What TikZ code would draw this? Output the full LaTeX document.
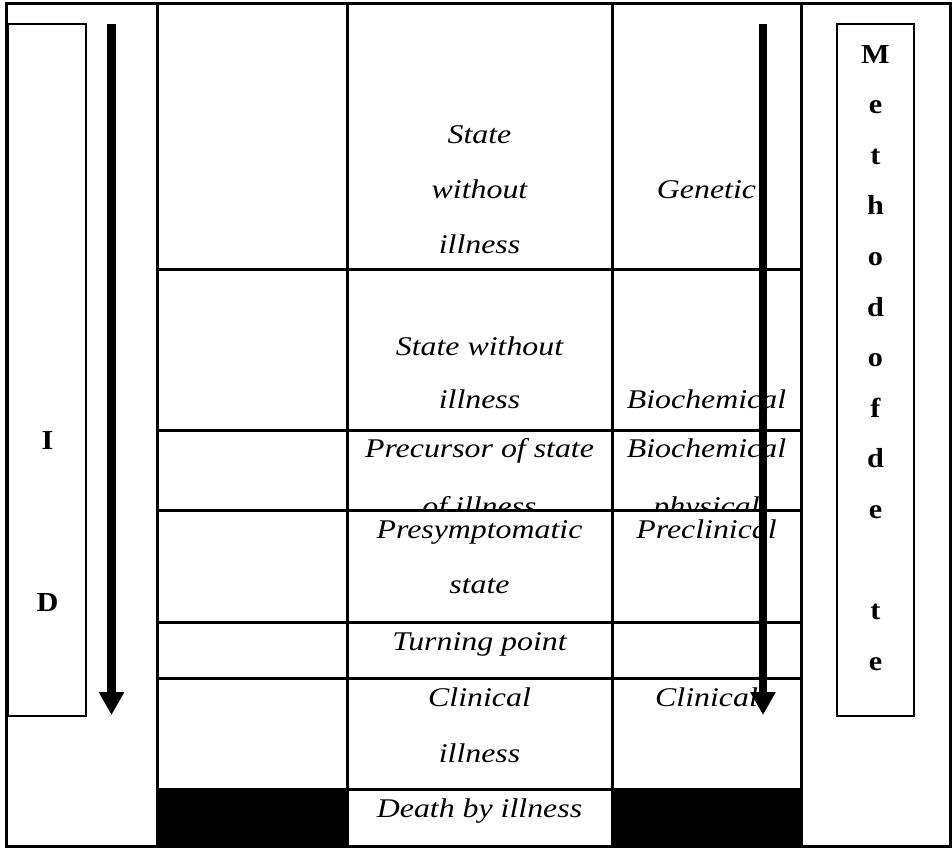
\documentclass[tikz,border=0pt]{standalone}
\usepackage{fontspec}
\setmainfont{Liberation Serif}
\newfontfamily\tabfont[FakeStretch=1.18]{Liberation Serif}
\newfontfamily\sidefont[FakeStretch=1.1]{Liberation Serif}
\usetikzlibrary{arrows.meta}
\begin{document}
\begin{tikzpicture}[x=1pt,y=-1pt,
  txt/.style={anchor=base,inner sep=0pt,font=\tabfont\itshape\fontsize{27}{30}\selectfont},
  sidelet/.style={anchor=base,inner sep=0pt,font=\sidefont\bfseries\fontsize{27.5}{30}\selectfont},
  grid/.style={line width=3pt,line cap=rect},
  sidebox/.style={draw,line width=2.4pt},
  bigarrow/.style={line width=8.5pt,-{Triangle[length=23pt,width=24pt]}}]
\useasboundingbox (0,0) rectangle (952,847);
% black cells
\fill (157,789) rectangle (347,846);
\fill (612,789) rectangle (801,846);
% texts
\node[txt] (t1a) at (479.5,143) {State};
\node[txt] (t1b) at (479.5,198) {without};
\node[txt] (t1c) at (479.5,253) {illness};
\node[txt] (g1) at (706.5,198) {Genetic};
\node[txt] (t2a) at (479.5,355) {State without};
\node[txt] (t2b) at (479.5,408) {illness};
\node[txt] (g2) at (706.5,408) {Biochemical};
\node[txt] (t3a) at (479.5,457) {Precursor of state};
\begin{scope}
  \clip (347,430) rectangle (612,510);
  \node[txt] (t3b) at (479.5,515) {of illness};
\end{scope}
\node[txt] (g3a) at (706.5,457) {Biochemical};
\begin{scope}
  \clip (612,430) rectangle (801,510);
  \node[txt] (g3b) at (706.5,515) {physical};
\end{scope}
\node[txt] (t4a) at (479.5,538) {Presymptomatic};
\node[txt] (t4b) at (479.5,593) {state};
\node[txt] (g4) at (706.5,538) {Preclinical};
\node[txt] (t5) at (479.5,650) {Turning point};
\node[txt] (t6a) at (479.5,706) {Clinical};
\node[txt] (t6b) at (479.5,762) {illness};
\node[txt] (g6) at (706.5,706) {Clinical};
\node[txt] (t7) at (479.5,817) {Death by illness};
% grid
\draw[grid] (6,3) rectangle (950,846);
\foreach \x in {157,347,612,801} \draw[grid] (\x,3) -- (\x,846);
\foreach \y in {269,430,510,622,678,789} \draw[grid] (157,\y) -- (801,\y);
% side boxes
\node[sidebox,minimum width=78pt,minimum height=692pt,inner sep=0pt] (lbox) at (47,370) {};
\node[sidebox,minimum width=77pt,minimum height=692pt,inner sep=0pt] (rbox) at (875.5,370) {};
\node[sidelet] (lI) at (47.5,449) {I};
\node[sidelet] (lD) at (47.5,611) {D};
\foreach \c [count=\i from 0] in {M,e,t,h,o,d,o,f,d,e,{},t,e}
  \node[sidelet] (r\i) at (875.5,{63+50.6*\i}) {\c};
% arrows
\coordinate (la1) at (111.5,24);
\coordinate (la2) at (111.5,715);
\coordinate (ra1) at (763,24);
\coordinate (ra2) at (763,715);
\draw[bigarrow] (la1) -- (la2);
\draw[bigarrow] (ra1) -- (ra2);
\end{tikzpicture}
\end{document}
